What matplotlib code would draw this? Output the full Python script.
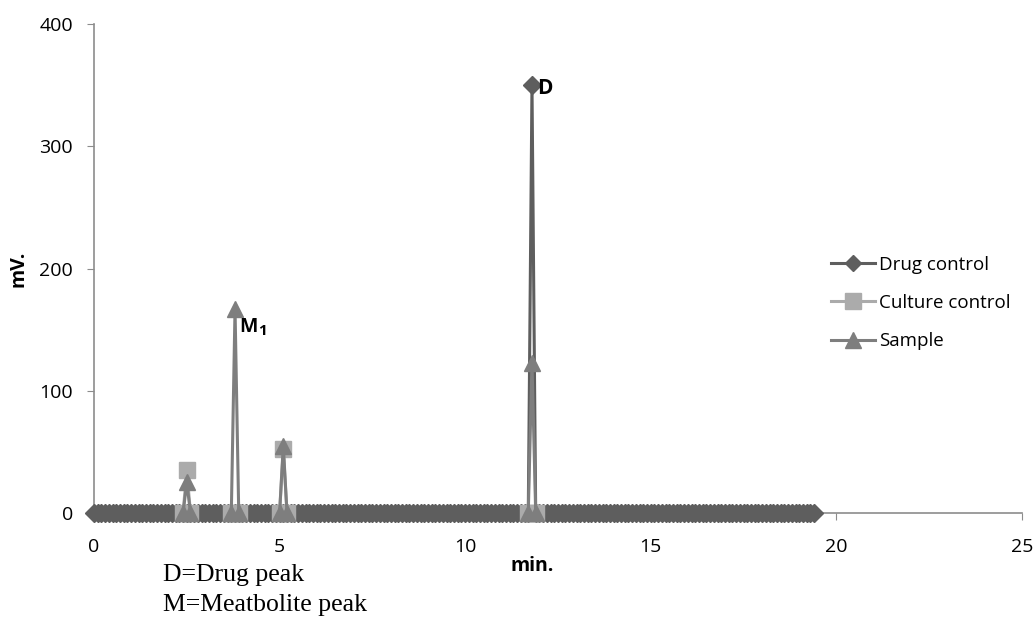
import numpy as np
import matplotlib
matplotlib.use("Agg")
import matplotlib.pyplot as plt

# tiempo de muestreo del cromatograma (min), cada 0.1 min hasta 19.4
tiempo = np.round(np.arange(0, 19.45, 0.1), 1)

# Drug control: linea base en cero y pico del farmaco a 11.8 min
drug_pico_t = [11.8]
drug_pico_v = [350]

# Culture control: solo puntos alrededor de los picos
culture_t = [2.4, 2.5, 2.6, None, 3.7, 3.8, 3.9, None, 5.0, 5.1, 5.2, None, 11.7, 11.8, 11.9]
culture_v = [0, 35, 0, None, 0, 0, 0, None, 0, 52, 0, None, 0, 0, 0]

# Sample
sample_t = [2.4, 2.5, 2.6, None, 3.7, 3.8, 3.9, None, 5.0, 5.1, 5.2, None, 11.7, 11.8, 11.9]
sample_v = [0, 25, 0, None, 0, 167, 0, None, 0, 55, 0, None, 0, 123, 0]

drug_v = np.zeros(len(tiempo))
for t, v in zip(drug_pico_t, drug_pico_v):
    drug_v[np.isclose(tiempo, t)] = v

def limpiar(xs, ys):
    xs = np.array([np.nan if x is None else x for x in xs], dtype=float)
    ys = np.array([np.nan if y is None else y for y in ys], dtype=float)
    return xs, ys

culture_x, culture_y = limpiar(culture_t, culture_v)
sample_x, sample_y = limpiar(sample_t, sample_v)

plt.rcParams['font.family'] = ['Open Sans', 'DejaVu Sans']

fig = plt.figure(figsize=(10.35, 6.17), dpi=100)
ax = fig.add_axes([0.0908, 0.1686, 0.8966, 0.7924])

ax.plot(tiempo, drug_v, color='#5e5e5e', lw=2.2, marker='D', ms=9.5,
        label='Drug control', zorder=3, clip_on=False)
ax.plot(culture_x, culture_y, color='#ababab', lw=2.2, marker='s', ms=11,
        label='Culture control', zorder=4, clip_on=False)
ax.plot(sample_x, sample_y, color='#7e7e7e', lw=2.2, marker='^', ms=11,
        label='Sample', zorder=5, clip_on=False)

ax.set_xlim(0, 25)
ax.set_ylim(0, 400)
ax.set_xticks([0, 5, 10, 15, 20, 25])
ax.set_yticks([0, 100, 200, 300, 400])
for s in ['top', 'right']:
    ax.spines[s].set_visible(False)
for s in ['left', 'bottom']:
    ax.spines[s].set_color('#8c8c8c')
    ax.spines[s].set_linewidth(1.2)
ax.tick_params(axis='both', direction='out', length=5, color='#8c8c8c',
               labelsize=14)
ax.tick_params(axis='x', pad=13)
ax.tick_params(axis='y', pad=10)

ax.set_xlabel('min.', fontsize=14, fontweight='bold')
ax.xaxis.set_label_coords(0.472, -0.088)
ax.set_ylabel('mV.', fontsize=14, fontweight='bold')
ax.yaxis.set_label_coords(-0.071, 0.5)

ax.text(11.93, 347, 'D', fontsize=15, fontweight='bold', va='center', ha='left', zorder=6)
ax.text(3.91, 152, 'M', fontsize=14, fontweight='bold', va='center', ha='left', zorder=6)
ax.text(4.43, 149, '1', fontsize=11, fontweight='bold', va='center', ha='left', zorder=6)

leg = ax.legend(loc='center left', bbox_to_anchor=(0.776, 0.4294), frameon=False,
                fontsize=13.5, handlelength=2.35, labelspacing=1.08, handletextpad=0.2)
leg.legend_handles[0].set_markersize(8)

fig.text(0.1575, 0.068, 'D=Drug peak', family=['Liberation Serif'], fontsize=18.5, va='center')
fig.text(0.1575, 0.020, 'M=Meatbolite peak', family=['Liberation Serif'], fontsize=18.5, va='center')

fig.savefig('out.png', dpi=100)
